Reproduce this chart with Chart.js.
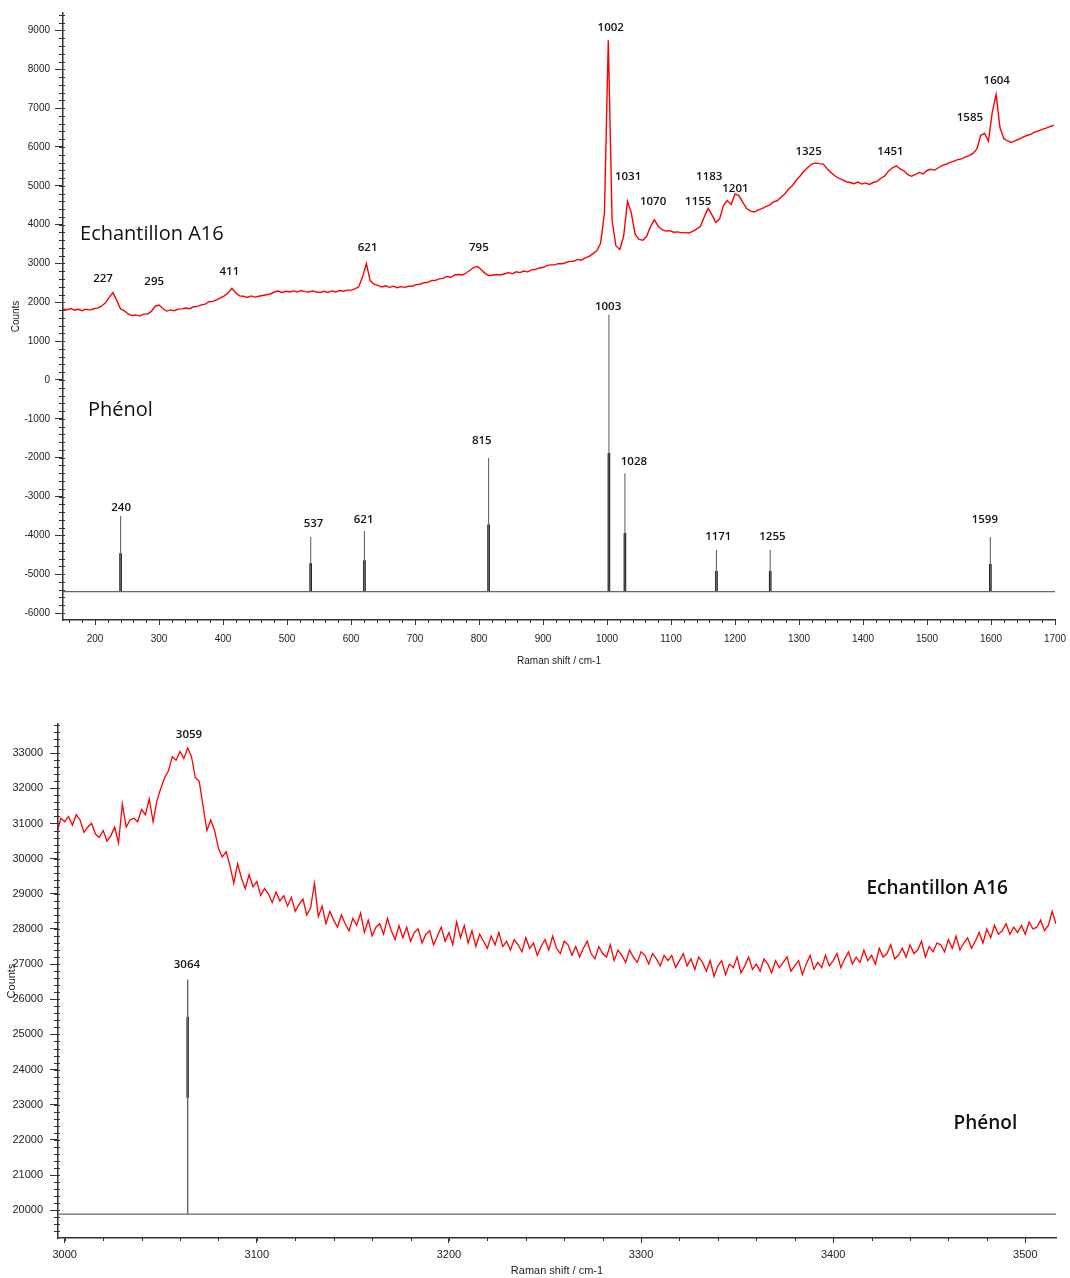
<!DOCTYPE html>
<html><head><meta charset="utf-8">
<script src="https://cdn.jsdelivr.net/npm/chart.js@4.4.1/dist/chart.umd.min.js"></script>
<style>
html,body{margin:0;padding:0;background:#fff;width:1070px;height:1278px;overflow:hidden;}
canvas{position:absolute;left:0;}
#c1{top:0;} #c2{top:712px;}
</style></head><body>
<canvas id="c1" width="1070" height="672"></canvas>
<canvas id="c2" width="1070" height="566"></canvas>
<script>
// ---------- DATA : low-wavenumber panel (150-1700 cm-1) ----------
const lowStart = 150, lowStep = 6;
const sampleLow = [
1830,1805,1840,1795,1820,1785,1825,1800,1835,1850,
1900,1980,2120,2250,2050,1830,1780,1700,1660,1675,
1645,1695,1700,1765,1900,1930,1840,1775,1805,1785,
1825,1830,1855,1835,1885,1895,1935,1955,2015,2025,
2065,2115,2165,2245,2360,2240,2165,2155,2125,2165,
2135,2155,2175,2195,2215,2265,2290,2255,2285,2265,
2295,2265,2305,2275,2265,2295,2265,2255,2285,2255,
2295,2265,2305,2285,2315,2315,2345,2400,2650,3000,
2560,2470,2435,2395,2425,2385,2415,2375,2405,2385,
2415,2415,2455,2465,2505,2515,2565,2565,2605,2615,
2665,2645,2705,2715,2705,2755,2825,2900,2920,2830,
2740,2685,2705,2715,2705,2735,2765,2735,2785,2765,
2805,2785,2835,2845,2885,2895,2945,2965,2965,2995,
2995,3025,3055,3055,3105,3085,3145,3185,3255,3325,
3520,4300,8750,4100,3450,3360,3700,4600,4300,3750,
3620,3600,3700,3950,4130,3960,3870,3835,3845,3805,
3815,3795,3795,3785,3825,3885,3960,4200,4420,4250,
4060,4150,4500,4620,4520,4790,4750,4580,4420,4350,
4325,4375,4415,4465,4505,4585,4615,4705,4795,4925,
5010,5150,5260,5380,5480,5560,5590,5570,5560,5440,
5340,5260,5195,5155,5105,5085,5055,5095,5045,5075,
5035,5085,5115,5195,5255,5385,5465,5515,5435,5385,
5285,5245,5295,5345,5305,5395,5425,5405,5465,5525,
5555,5605,5635,5675,5695,5745,5775,5835,5950,6300,
6350,6150,6900,7350,6500,6220,6155,6115,6165,6205,
6255,6295,6325,6385,6415,6455,6485,6525,6560
];
const phenolLowPeaks = [240, 537, 621, 815, 1003, 1028, 1171, 1255, 1599];
const phenolLowTop   = [-3500, -4040, -3890, -2010, 1680, -2400, -4380, -4380, -4040];
const phenolLowInner = [-4460, -4720, -4640, -3720, -1880, -3940, -4920, -4920, -4740];
const phenolLowBase  = -5450;
const lowXTicks = [200,300,400,500,600,700,800,900,1000,1100,1200,1300,1400,1500,1600,1700];
const lowYTicks = [-6000,-5000,-4000,-3000,-2000,-1000,0,1000,2000,3000,4000,5000,6000,7000,8000,9000];
const sampleLowLabels  = ['227','295','411','621','795','1002','1031','1070','1155','1183','1201','1325','1451','1585','1604'];
const sampleLowLabelX  = [212.6, 292.5, 410, 626, 799.8, 1005.8, 1033, 1072, 1142.6, 1159.8, 1200.6, 1315, 1443, 1567, 1609];
const sampleLowLabelY  = [2608, 2531, 2789, 3407, 3407, 9077, 5237, 4593, 4593, 5237, 4928, 5881, 5881, 6758, 7711];
const phenolLowLabels  = ['240','537','621','815','1003','1028','1171','1255','1599'];
const phenolLowLabelX  = [240.8, 541.4, 619.7, 804.4, 1001.7, 1042, 1173.9, 1258.5, 1590.4];
const phenolLowLabelY  = [-3294, -3706, -3603, -1567, 1887, -2108, -4029, -4029, -3603];

// ---------- DATA : high-wavenumber panel (3000-3516 cm-1) ----------
const highStart = 2996, highStep = 2;
const sampleHigh = [
30750,31150,31050,31200,30950,31250,31100,30750,30900,31000,
30700,30600,30800,30500,30650,30900,30450,31550,30900,31100,
31150,31050,31400,31250,31700,31050,31650,32000,32300,32500,
32900,32800,33050,32850,33150,32900,32300,32200,31500,30800,
31100,30800,30300,30050,30200,29800,29300,29850,29450,29150,
29550,29200,29350,28950,29150,29000,28750,29050,28800,28950,
28650,28900,28500,28700,28850,28400,28600,29300,28350,28650,
28150,28500,28250,28050,28400,28150,27950,28300,28100,28450,
27900,28250,27800,28050,28150,27850,28300,27950,27700,28100,
27750,28050,27650,27900,28000,27600,27850,27950,27550,27800,
28050,27650,27900,27550,28200,27750,28100,27600,27950,27500,
27850,27650,27450,27800,27550,27900,27500,27650,27400,27700,
27550,27350,27750,27450,27600,27250,27500,27700,27400,27800,
27450,27300,27650,27550,27250,27500,27200,27450,27650,27300,
27150,27500,27300,27200,27550,27100,27400,27250,27050,27400,
27200,27050,27350,27250,27000,27300,27150,26950,27250,27100,
27250,26900,27100,27300,26950,27150,26850,27200,27050,26800,
27100,26650,26950,27100,26700,27000,26900,27200,26750,26950,
27200,26850,27000,26800,27150,27000,26750,27100,26900,27050,
27200,26800,26950,27100,26700,27000,27250,26850,27050,26900,
27250,26950,27100,27300,26900,27150,27350,27000,27200,27050,
27400,27100,27250,27000,27450,27200,27300,27550,27150,27250,
27450,27200,27550,27300,27400,27650,27200,27500,27350,27600,
27550,27350,27700,27450,27800,27400,27600,27750,27450,27650,
27900,27600,28000,27750,28100,27850,27950,28150,27850,28050,
27900,28100,27850,28200,28000,28050,28250,27950,28100,28500,
28150
];
const phenolHighPeaks = [3064];
const phenolHighTop   = [26560];
const phenolHighInner = [25500];
const phenolHighInnerLow = [23200];
const phenolHighBase  = 19890;
const highXTicks = [3000,3100,3200,3300,3400,3500];
const highYTicks = [20000,21000,22000,23000,24000,25000,26000,27000,28000,29000,30000,31000,32000,33000];
const sampleHighLabels = ['3059'];
const sampleHighLabelX = [3064.7];
const sampleHighLabelY = [33521];
const phenolHighLabels = ['3064'];
const phenolHighLabelX = [3063.6];
const phenolHighLabelY = [26969];

// ---------- builders ----------
function gridSeries(start, step, vals){ return vals.map((v,i)=>({x:start+i*step, y:v})); }
function sticks(peaks, tops, base, xmin, xmax){
  const d=[{x:xmin,y:base}];
  peaks.forEach((p,i)=>{ d.push({x:p,y:base}); d.push({x:p,y:tops[i]}); d.push({x:p,y:base}); });
  d.push({x:xmax,y:base});
  return d;
}
function innerSticks(peaks, tops, lows){
  const d=[];
  peaks.forEach((p,i)=>{ d.push({x:p,y:lows[i]}); d.push({x:p,y:tops[i]}); d.push({x:NaN,y:NaN}); });
  return d;
}
function labelList(texts, xs, ys, font){ return texts.map((t,i)=>({text:t,x:xs[i],y:ys[i],font:font,align:'center'})); }

const deco = {
  id:'deco',
  afterDraw(chart, args, opts){
    const ctx = chart.ctx, xs = chart.scales.x, ys = chart.scales.y;
    ctx.save();
    ctx.strokeStyle = '#333'; ctx.lineWidth = 1;
    for (let v = Math.ceil(xs.min/opts.minorX)*opts.minorX; v <= xs.max; v += opts.minorX) {
      const p = Math.round(xs.getPixelForValue(v))+0.5;
      ctx.beginPath(); ctx.moveTo(p, xs.top); ctx.lineTo(p, xs.top+3); ctx.stroke();
    }
    for (let v = Math.ceil(ys.min/opts.minorY)*opts.minorY; v <= ys.max; v += opts.minorY) {
      const p = Math.round(ys.getPixelForValue(v))+0.5;
      ctx.beginPath(); ctx.moveTo(ys.right-4, p); ctx.lineTo(ys.right+2, p); ctx.stroke();
    }
    ctx.fillStyle = '#111'; ctx.textBaseline = 'middle';
    for (const t of opts.texts) {
      ctx.font = t.font; ctx.textAlign = t.align;
      ctx.fillText(t.text, xs.getPixelForValue(t.x), ys.getPixelForValue(t.y));
    }
    ctx.restore();
  }
};

function makeChart(id, c){
  return new Chart(document.getElementById(id), {
    type:'line',
    data:{datasets:c.datasets},
    options:{
      responsive:false, animation:false, devicePixelRatio:1,
      layout:{padding:{top:c.padTop, right:c.padRight, left:0, bottom:0}},
      elements:{point:{radius:0}, line:{tension:0}},
      plugins:{legend:{display:false}, tooltip:{enabled:false}, deco:{minorX:c.minorX, minorY:c.minorY, texts:c.texts}},
      scales:{
        x:{type:'linear', min:c.xmin, max:c.xmax,
          afterBuildTicks:s=>{s.ticks=c.xticks.map(v=>({value:v}));},
          afterFit:s=>{s.height=c.xAxisH; s.paddingLeft=0; s.paddingRight=0;},
          grid:{drawOnChartArea:false, drawTicks:true, tickLength:5, tickColor:'#333', tickWidth:1},
          border:{display:true, color:'#333', width:1.5},
          ticks:{font:{family:'Liberation Sans', size:c.tickSize}, color:'#222', padding:c.xTickPad, maxRotation:0, autoSkip:false, callback:v=>String(v)},
          title:{display:true, text:'Raman shift / cm-1', color:'#222', font:{family:'Liberation Sans', size:c.tickSize}, padding:{top:0,bottom:c.titlePad}}
        },
        y:{type:'linear', min:c.ymin, max:c.ymax,
          afterBuildTicks:s=>{s.ticks=c.yticks.map(v=>({value:v}));},
          afterFit:s=>{s.width=c.yAxisW; s.paddingTop=0; s.paddingBottom=0;},
          grid:{drawOnChartArea:false, drawTicks:true, tickLength:8, tickColor:'#333', tickWidth:1},
          border:{display:true, color:'#333', width:1.5},
          ticks:{font:{family:'Liberation Sans', size:c.tickSize}, color:'#222', padding:c.yTickPad, autoSkip:false, callback:v=>String(v)},
          title:{display:true, text:'Counts', color:'#222', font:{family:'Liberation Sans', size:c.tickSize}, padding:{top:c.yTitlePad,bottom:0}}
        }
      }
    },
    plugins:[deco]
  });
}

const peakFont = '600 11.5px "Open Sans"';
const bigFont = '20px "Open Sans"';

makeChart('c1', {
  padTop:13, padRight:15, xAxisH:52, yAxisW:63, xmin:150, xmax:1700, ymin:-6180, ymax:9450,
  xticks:lowXTicks, yticks:lowYTicks, minorX:20, minorY:200, tickSize:10, xTickPad:8, yTickPad:5, titlePad:5, yTitlePad:10,
  datasets:[
    {data:sticks(phenolLowPeaks, phenolLowTop, phenolLowBase, 150, 1700), borderColor:'#666', borderWidth:1.1},
    {data:innerSticks(phenolLowPeaks, phenolLowInner, phenolLowPeaks.map(()=>phenolLowBase)), borderColor:'#111', borderWidth:2.6, spanGaps:false},
    {data:gridSeries(lowStart, lowStep, sampleLow), borderColor:'#ff0000', borderWidth:1.4}
  ],
  texts:[].concat(
    labelList(sampleLowLabels, sampleLowLabelX, sampleLowLabelY, peakFont),
    labelList(phenolLowLabels, phenolLowLabelX, phenolLowLabelY, peakFont),
    [{text:'Echantillon A16', x:176.6, y:3742, font:bigFont, align:'left'},
     {text:'Phénol', x:189, y:-768, font:bigFont, align:'left'}]
  )
});

makeChart('c2', {
  padTop:12, padRight:14, xAxisH:40, yAxisW:58, xmin:2996.5, xmax:3516, ymin:19210, ymax:33830,
  xticks:highXTicks, yticks:highYTicks, minorX:20, minorY:200, tickSize:11, xTickPad:5, yTickPad:7, titlePad:0, yTitlePad:5,
  datasets:[
    {data:sticks(phenolHighPeaks, phenolHighTop, phenolHighBase, 2996.5, 3516), borderColor:'#666', borderWidth:1.4},
    {data:innerSticks(phenolHighPeaks, phenolHighInner, phenolHighInnerLow), borderColor:'#111', borderWidth:2.4, spanGaps:false},
    {data:gridSeries(highStart, highStep, sampleHigh), borderColor:'#ff0000', borderWidth:1.3}
  ],
  texts:[].concat(
    labelList(sampleHighLabels, sampleHighLabelX, sampleHighLabelY, peakFont),
    labelList(phenolHighLabels, phenolHighLabelX, phenolHighLabelY, peakFont),
    [{text:'Echantillon A16', x:3417.3, y:29162, font:'600 19px "Open Sans"', align:'left'},
     {text:'Phénol', x:3462.7, y:22467, font:'600 19px "Open Sans"', align:'left'}]
  )
});
</script>
</body></html>
